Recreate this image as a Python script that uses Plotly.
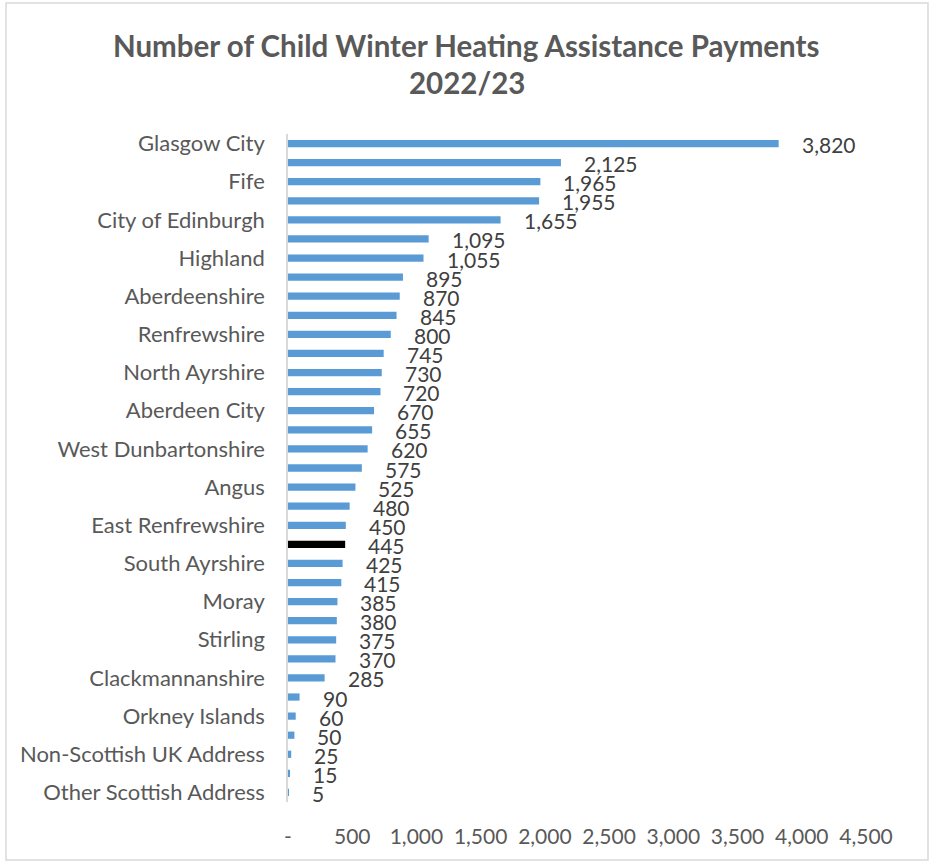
import plotly.graph_objects as go

# Child Winter Heating Assistance payments by local authority, 2022/23
areas = [
    "Glasgow City", "North Lanarkshire", "Fife", "South Lanarkshire",
    "City of Edinburgh", "West Lothian", "Highland", "Falkirk",
    "Aberdeenshire", "Dundee City", "Renfrewshire", "East Ayrshire",
    "North Ayrshire", "Dumfries and Galloway", "Aberdeen City",
    "Perth and Kinross", "West Dunbartonshire", "Inverclyde", "Angus",
    "Midlothian", "East Renfrewshire", "Scottish Borders", "South Ayrshire",
    "East Dunbartonshire", "Moray", "East Lothian", "Stirling",
    "Argyll and Bute", "Clackmannanshire", "Na h-Eileanan Siar",
    "Orkney Islands", "Shetland Islands", "Non-Scottish UK Address",
    "Unknown", "Other Scottish Address",
]
payments = [
    3820, 2125, 1965, 1955, 1655, 1095, 1055, 895, 870, 845, 800, 745,
    730, 720, 670, 655, 620, 575, 525, 480, 450, 445, 425, 415, 385, 380,
    375, 370, 285, 90, 60, 50, 25, 15, 5,
]
highlight = "Scottish Borders"

x_ticks = [0, 500, 1000, 1500, 2000, 2500, 3000, 3500, 4000, 4500]
x_tick_text = ["-"] + [f"{v:,}" for v in x_ticks[1:]]

BLUE = "#5B9BD5"
GREY_TEXT = "#595959"
FONT = "Lato"

W, H = 929, 865
ML, MR, MT, MB = 288, 63, 134, 63

colors = ["#000000" if a == highlight else BLUE for a in areas]

fig = go.Figure(
    go.Bar(
        x=payments,
        y=areas,
        orientation="h",
        marker=dict(color=colors, line=dict(width=0)),
        width=0.38,
        hoverinfo="x+y",
    )
)

# value labels to the right of each bar
for a, v in zip(areas, payments):
    fig.add_annotation(
        x=v, y=a, text=f"{v:,}", showarrow=False,
        xanchor="left", yanchor="middle", xshift=21, yshift=-1,
        font=dict(family=FONT, size=21, color="#404040"),
    )

pw = W - ML - MR
ph = H - MT - MB


def px_x(px):
    return (px - ML) / pw


def px_y(py):
    return (H - MB - py) / ph


# chart title, two centred lines
fig.add_annotation(
    text="<b>Number of Child Winter Heating Assistance Payments</b>",
    xref="paper", yref="paper", x=px_x(W / 2 + 2), y=px_y(45),
    xanchor="center", yanchor="middle", showarrow=False,
    font=dict(family=FONT, size=29.5, color=GREY_TEXT),
)
fig.add_annotation(
    text="<b>2022/23</b>",
    xref="paper", yref="paper", x=px_x(W / 2 + 2), y=px_y(83),
    xanchor="center", yanchor="middle", showarrow=False,
    font=dict(family=FONT, size=29.5, color=GREY_TEXT),
)

# light frame around the whole chart
fig.add_shape(
    type="rect", xref="paper", yref="paper",
    x0=px_x(6), x1=px_x(928),
    y0=px_y(860), y1=px_y(3),
    line=dict(color="#D9D9D9", width=1.5), fillcolor="rgba(0,0,0,0)",
    layer="below",
)

fig.update_layout(
    width=W, height=H,
    margin=dict(l=ML, r=MR, t=MT, b=MB),
    paper_bgcolor="white", plot_bgcolor="white",
    showlegend=False,
    xaxis=dict(
        range=[0, 4500],
        tickvals=x_ticks, ticktext=x_tick_text,
        showgrid=False, zeroline=False, showline=False,
        ticks="", ticklabelstandoff=20,
        tickfont=dict(family=FONT, size=21, color=GREY_TEXT),
        fixedrange=True,
    ),
    yaxis=dict(
        categoryorder="array", categoryarray=areas,
        range=[len(areas) - 0.5, -0.5],
        tickvals=areas[::2], ticktext=areas[::2],
        showgrid=False, zeroline=False,
        showline=True, linecolor="#D9D9D9", linewidth=1.5,
        ticks="", ticklabelstandoff=17,
        tickfont=dict(family=FONT, size=22, color=GREY_TEXT),
        fixedrange=True,
    ),
)

fig.write_html("out.html")
